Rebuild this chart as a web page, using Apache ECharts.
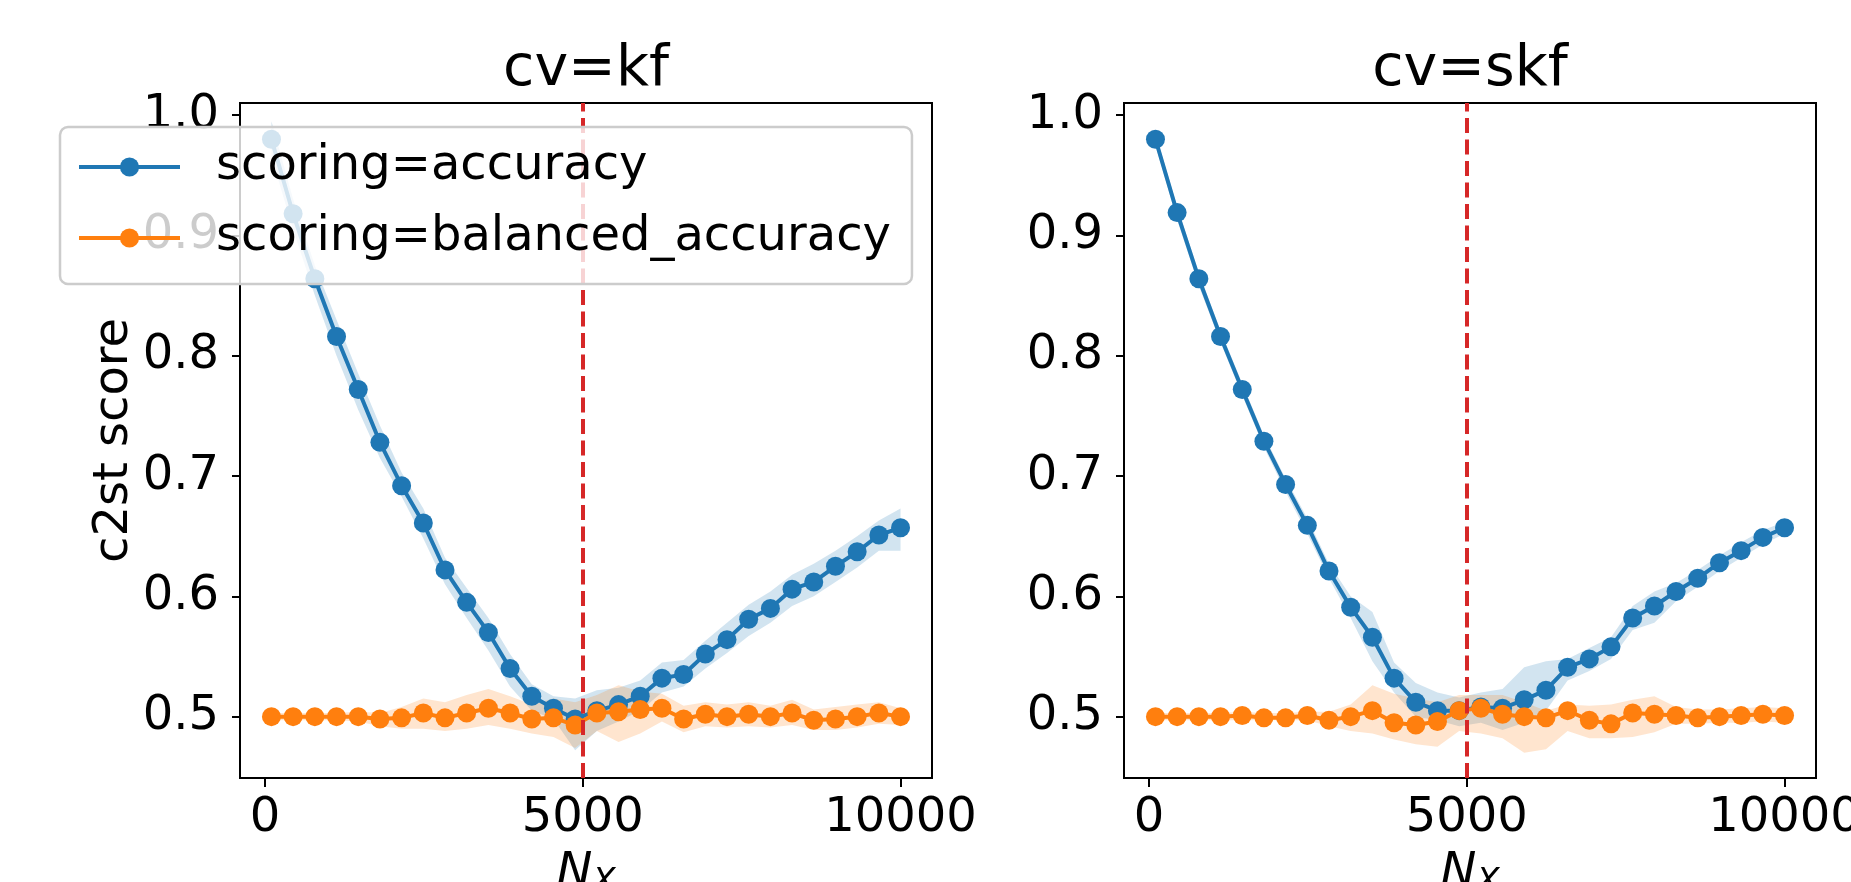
<!DOCTYPE html>
<html>
<head>
<meta charset="utf-8">
<script src="https://cdn.jsdelivr.net/npm/echarts@6/dist/echarts.min.js"></script>
<style>
  html, body { margin: 0; padding: 0; background: #fff; }
  #chart { width: 1851px; height: 882px; }
</style>
</head>
<body>
<div id="chart"></div>
<script>
// sample sizes N_X (30 points, 100 .. 10000)
const nx = [100, 441, 783, 1124, 1466, 1807, 2148, 2490, 2831, 3172,
            3514, 3855, 4197, 4538, 4879, 5221, 5562, 5903, 6245, 6586,
            6928, 7269, 7610, 7952, 8293, 8634, 8976, 9317, 9659, 10000];

// cv=kf, scoring=accuracy
const kfAcc   = [0.980, 0.918, 0.864, 0.816, 0.772, 0.728, 0.692, 0.661, 0.622, 0.595,
                 0.570, 0.540, 0.517, 0.507, 0.498, 0.505, 0.510, 0.517, 0.532, 0.535,
                 0.552, 0.564, 0.581, 0.590, 0.606, 0.612, 0.625, 0.637, 0.651, 0.657];
const kfAccLo = [0.965, 0.905, 0.850, 0.800, 0.755, 0.715, 0.683, 0.648, 0.610, 0.582,
                 0.555, 0.525, 0.505, 0.498, 0.472, 0.488, 0.496, 0.505, 0.520, 0.525,
                 0.540, 0.553, 0.567, 0.578, 0.592, 0.600, 0.612, 0.624, 0.638, 0.638];
const kfAccHi = [0.995, 0.930, 0.875, 0.830, 0.785, 0.742, 0.703, 0.673, 0.632, 0.607,
                 0.582, 0.552, 0.527, 0.517, 0.515, 0.522, 0.524, 0.530, 0.545, 0.547,
                 0.563, 0.578, 0.593, 0.604, 0.618, 0.627, 0.638, 0.650, 0.663, 0.673];

// cv=kf, scoring=balanced_accuracy
const kfBal   = [0.500, 0.500, 0.500, 0.500, 0.500, 0.498, 0.499, 0.503, 0.499, 0.503,
                 0.507, 0.503, 0.498, 0.499, 0.493, 0.503, 0.504, 0.506, 0.507, 0.498,
                 0.502, 0.500, 0.502, 0.500, 0.503, 0.497, 0.498, 0.500, 0.503, 0.500];
const kfBalLo = [0.497, 0.497, 0.497, 0.497, 0.496, 0.492, 0.490, 0.490, 0.488, 0.490,
                 0.493, 0.490, 0.486, 0.483, 0.474, 0.488, 0.479, 0.486, 0.496, 0.487,
                 0.492, 0.491, 0.492, 0.491, 0.493, 0.489, 0.489, 0.491, 0.494, 0.493];
const kfBalHi = [0.503, 0.503, 0.503, 0.503, 0.504, 0.503, 0.508, 0.515, 0.512, 0.518,
                 0.523, 0.517, 0.510, 0.515, 0.512, 0.518, 0.526, 0.521, 0.519, 0.509,
                 0.512, 0.510, 0.512, 0.509, 0.514, 0.506, 0.508, 0.510, 0.512, 0.507];

// cv=skf, scoring=accuracy
const skfAcc   = [0.980, 0.919, 0.864, 0.816, 0.772, 0.729, 0.693, 0.659, 0.621, 0.591,
                  0.566, 0.532, 0.512, 0.505, 0.505, 0.508, 0.507, 0.514, 0.522, 0.541,
                  0.548, 0.558, 0.582, 0.592, 0.604, 0.615, 0.628, 0.638, 0.649, 0.657];
const skfAccLo = [0.975, 0.913, 0.858, 0.811, 0.767, 0.724, 0.687, 0.652, 0.615, 0.582,
                  0.546, 0.520, 0.500, 0.497, 0.492, 0.495, 0.489, 0.495, 0.505, 0.530,
                  0.538, 0.548, 0.572, 0.578, 0.596, 0.608, 0.621, 0.632, 0.643, 0.652];
const skfAccHi = [0.985, 0.924, 0.869, 0.821, 0.777, 0.734, 0.698, 0.665, 0.627, 0.600,
                  0.587, 0.545, 0.528, 0.520, 0.516, 0.520, 0.523, 0.541, 0.546, 0.548,
                  0.557, 0.566, 0.592, 0.604, 0.611, 0.622, 0.634, 0.645, 0.655, 0.662];

// cv=skf, scoring=balanced_accuracy
const skfBal   = [0.500, 0.500, 0.500, 0.500, 0.501, 0.499, 0.499, 0.501, 0.497, 0.500,
                  0.505, 0.495, 0.493, 0.496, 0.505, 0.507, 0.502, 0.500, 0.499, 0.505,
                  0.497, 0.494, 0.503, 0.502, 0.501, 0.499, 0.500, 0.501, 0.502, 0.501];
const skfBalLo = [0.497, 0.497, 0.497, 0.497, 0.497, 0.497, 0.497, 0.497, 0.492, 0.488,
                  0.486, 0.481, 0.477, 0.475, 0.488, 0.486, 0.482, 0.470, 0.473, 0.488,
                  0.482, 0.482, 0.483, 0.487, 0.494, 0.494, 0.495, 0.495, 0.496, 0.495];
const skfBalHi = [0.503, 0.503, 0.503, 0.503, 0.504, 0.503, 0.503, 0.504, 0.504, 0.510,
                  0.526, 0.519, 0.515, 0.512, 0.518, 0.518, 0.518, 0.512, 0.505, 0.510,
                  0.509, 0.510, 0.514, 0.517, 0.508, 0.506, 0.506, 0.507, 0.508, 0.507];

const xTicks = [0, 5000, 10000];
const yTicks = [0.5, 0.6, 0.7, 0.8, 0.9, 1.0];
const titles = ['cv=kf', 'cv=skf'];
const names = ['scoring=accuracy', 'scoring=balanced_accuracy'];
const nLine = 5000;

const FONT = 'DejaVu Sans';
const BLUE = '#1f77b4';
const ORANGE = '#ff7f0e';
const gridLefts = [240, 1124];

const panels = [
  { acc: kfAcc, accLo: kfAccLo, accHi: kfAccHi, bal: kfBal, balLo: kfBalLo, balHi: kfBalHi },
  { acc: skfAcc, accLo: skfAccLo, accHi: skfAccHi, bal: skfBal, balLo: skfBalLo, balHi: skfBalHi },
];

// shaded +/- band, drawn as one polygon through the axis scales
const band = (gi, lo, hi, fill) => ({
  type: 'custom',
  xAxisIndex: gi,
  yAxisIndex: gi,
  silent: true,
  z: 1,
  data: nx.map((x, i) => [x, lo[i], hi[i]]),
  encode: { x: 0, y: [1, 2] },
  renderItem: (params, api) => {
    if (params.dataIndex !== 0) return null;
    const top = nx.map((x, i) => api.coord([x, hi[i]]));
    const bot = nx.map((x, i) => api.coord([x, lo[i]])).reverse();
    return { type: 'polygon', shape: { points: top.concat(bot) }, style: { fill } };
  },
});

const line = (gi, name, ys, color, z) => ({
  type: 'line',
  name,
  xAxisIndex: gi,
  yAxisIndex: gi,
  z,
  data: nx.map((x, i) => [x, ys[i]]),
  symbol: 'circle',
  symbolSize: 19,
  showSymbol: true,
  lineStyle: { color, width: 4 },
  itemStyle: { color },
  emphasis: { disabled: true },
});

const series = [];
panels.forEach((p, gi) => {
  series.push(band(gi, p.accLo, p.accHi, 'rgba(31,119,180,0.2)'));
  series.push(band(gi, p.balLo, p.balHi, 'rgba(255,127,14,0.2)'));
  series.push(line(gi, names[0], p.acc, BLUE, 3));
  const bal = line(gi, names[1], p.bal, ORANGE, 4);
  bal.markLine = {
    silent: true,
    symbol: ['none', 'none'],
    label: { show: false },
    lineStyle: { color: '#d62728', width: 4, type: [15, 6.5] },
    data: [{ xAxis: nLine }],
    animation: false,
  };
  series.push(bal);
});

const axisCommon = {
  axisLine: { show: true, onZero: false, lineStyle: { color: '#000', width: 2 } },
  axisTick: { show: true, inside: false, length: 9, lineStyle: { color: '#000', width: 2 } },
  splitLine: { show: false },
};

const option = {
  animation: false,
  title: titles.map((t, gi) => ({
    text: t,
    left: gridLefts[gi] + 346,
    textAlign: 'center',
    top: 42,
    padding: 0,
    textStyle: { fontFamily: FONT, fontSize: 57, fontWeight: 'normal', color: '#000' },
  })),
  legend: {
    orient: 'vertical',
    left: 60,
    top: 127,
    padding: [16, 21, 22, 17],
    itemGap: 23,
    itemWidth: 101,
    itemHeight: 24,
    backgroundColor: 'rgba(255,255,255,0.8)',
    borderColor: '#cccccc',
    borderWidth: 2.5,
    borderRadius: 8,
    z: 10,
    data: names,
    lineStyle: { width: 4 },
    textStyle: { fontFamily: FONT, fontSize: 48, color: '#000', lineHeight: 48, padding: [0, 0, 0, 31] },
  },
  grid: gridLefts.map(left => ({
    left, top: 103, width: 692, height: 675,
    outerBoundsMode: 'none',
    containLabel: false,
    show: true, borderColor: '#000', borderWidth: 2, backgroundColor: 'transparent',
  })),
  xAxis: gridLefts.map((_, gi) => ({
    ...axisCommon,
    type: 'value',
    gridIndex: gi,
    min: -395,
    max: 10495,
    axisTick: { ...axisCommon.axisTick, customValues: xTicks },
    axisLabel: {
      customValues: xTicks,
      formatter: v => String(v),
      margin: 17,
      fontFamily: FONT, fontSize: 48, color: '#000',
    },
    name: '{n|N}{s|X}',
    nameLocation: 'middle',
    nameGap: 65,
    nameTextStyle: {
      rich: {
        n: { fontFamily: FONT, fontStyle: 'italic', fontSize: 48, color: '#000', lineHeight: 48 },
        s: { fontFamily: FONT, fontStyle: 'italic', fontSize: 34, color: '#000', lineHeight: 48, padding: [18, 0, 0, 0] },
      },
    },
  })),
  yAxis: gridLefts.map((_, gi) => ({
    ...axisCommon,
    type: 'value',
    gridIndex: gi,
    min: 0.449,
    max: 1.0101,
    axisTick: { ...axisCommon.axisTick, length: 8, customValues: yTicks },
    axisLabel: {
      customValues: yTicks,
      formatter: v => v.toFixed(1),
      margin: 21,
      fontFamily: FONT, fontSize: 48, color: '#000',
    },
    name: gi === 0 ? 'c2st score' : '',
    nameLocation: 'middle',
    nameGap: 100,
    nameTextStyle: { fontFamily: FONT, fontSize: 48, color: '#000' },
  })),
  series,
};

const chart = echarts.init(document.getElementById('chart'));
chart.setOption(option);
</script>
</body>
</html>
